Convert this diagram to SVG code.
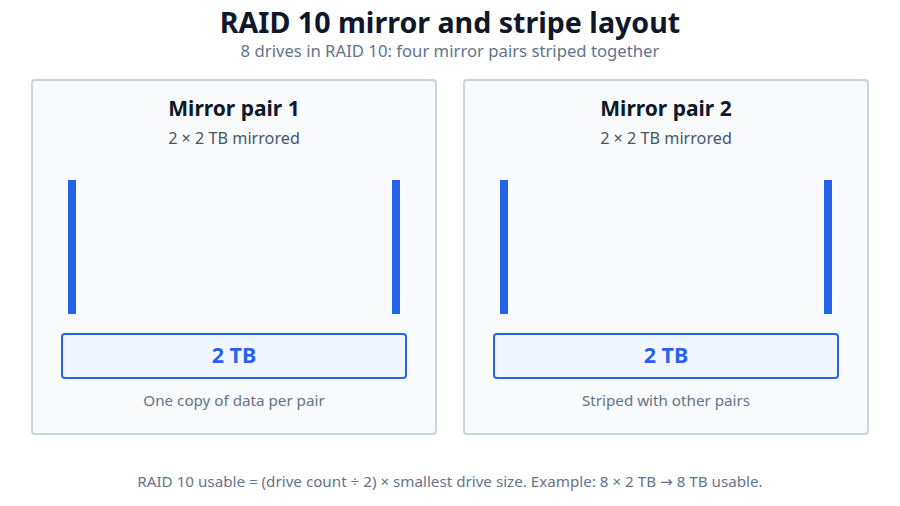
<svg xmlns="http://www.w3.org/2000/svg" width="900" height="506" viewBox="0 0 900 506">
<style>
text{font-family:"Noto Sans","Open Sans","DejaVu Sans",sans-serif;text-anchor:middle}
.title{font-size:28.6px;font-weight:700;fill:#0f172a}
.sub{font-size:16.7px;fill:#64748b}
.panel{fill:#f8fafc;stroke:#cbd5e1;stroke-width:2}
.ph{font-size:21px;font-weight:700;fill:#0f172a}
.ps{font-size:16.2px;fill:#475569}
.bar{fill:#2563eb}
.cap{fill:#eff6ff;stroke:#2563eb;stroke-width:2}
.capt{font-size:21.5px;font-weight:700;fill:#2563eb}
.note{font-size:15.2px;fill:#64748b}
.foot{font-size:15.2px;fill:#64748b}
</style>
<rect width="900" height="506" fill="#ffffff"/>
<text class="title" x="450" y="33">RAID 10 mirror and stripe layout</text>
<text class="sub" x="450" y="57">8 drives in RAID 10: four mirror pairs striped together</text>
<g id="pair1">
<rect class="panel" x="32" y="80" width="404" height="354" rx="3"/>
<text class="ph" x="234" y="116">Mirror pair 1</text>
<text class="ps" x="234" y="144">2 × 2 TB mirrored</text>
<rect class="bar" x="68" y="180" width="8" height="134"/>
<rect class="bar" x="392" y="180" width="8" height="134"/>
<rect class="cap" x="62" y="334" width="344" height="44" rx="3"/>
<text class="capt" x="234" y="363">2 TB</text>
<text class="note" x="234" y="406">One copy of data per pair</text>
</g>
<g id="pair2">
<rect class="panel" x="464" y="80" width="404" height="354" rx="3"/>
<text class="ph" x="666" y="116">Mirror pair 2</text>
<text class="ps" x="666" y="144">2 × 2 TB mirrored</text>
<rect class="bar" x="500" y="180" width="8" height="134"/>
<rect class="bar" x="824" y="180" width="8" height="134"/>
<rect class="cap" x="494" y="334" width="344" height="44" rx="3"/>
<text class="capt" x="666" y="363">2 TB</text>
<text class="note" x="666" y="406">Striped with other pairs</text>
</g>
<g id="connectors"/>
<text class="foot" x="450" y="487">RAID 10 usable = (drive count ÷ 2) × smallest drive size. Example: 8 × 2 TB → 8 TB usable.</text>
</svg>
